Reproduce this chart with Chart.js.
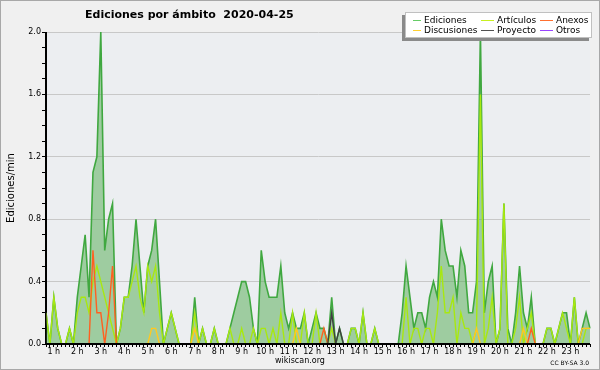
<!DOCTYPE html>
<html>
<head>
<meta charset="utf-8">
<script src="https://cdn.jsdelivr.net/npm/chart.js@4.4.1/dist/chart.umd.min.js"></script>
<style>
  html, body { margin: 0; padding: 0; background: #f0f0f0; }
  #wrap { position: relative; width: 600px; height: 370px; font-family: "DejaVu Sans", sans-serif; color: #000; }
  #frame { position: absolute; left: 0; top: 0; width: 600px; height: 370px; box-sizing: border-box; border: 1px solid #a8a8a8; pointer-events: none; }
  #titulo { position: absolute; left: 85px; top: 8px; font-weight: bold; font-size: 11px; line-height: 13px; white-space: pre; }
  #leyenda { position: absolute; left: 405px; top: 12px; width: 187px; height: 26px; background: #fff; border: 1px solid #c0c0c0; box-sizing: border-box; box-shadow: -3px 3px 0 #8a8a8a; }
  .item { position: absolute; font-size: 9px; line-height: 10px; white-space: pre; }
  .muestra { position: absolute; height: 1px; }
  #pie { position: absolute; left: 200px; width: 200px; top: 356px; text-align: center; font-size: 8px; line-height: 10px; }
  #licencia { position: absolute; right: 11px; top: 359px; font-size: 6px; line-height: 8px; }
</style>
</head>
<body>
<div id="wrap">
  <canvas id="grafico" width="600" height="370"></canvas>
  <div id="titulo">Ediciones por ámbito  2020-04-25</div>
  <div id="leyenda"></div>
  <div id="pie">wikiscan.org</div>
  <div id="licencia">CC BY-SA 3.0</div>
  <div id="frame"></div>
</div>
<script>
// 10-minute bins from 0:40 to 23:50, values in edits per minute
const inicio = 4;   // first bin = 0:40
const fin = 143;    // last bin = 23:50

const ediciones = [
  0.2, 0, 0.3, 0.1, 0, 0, 0.1, 0, 0.3, 0.5,
  0.7, 0.3, 1.1, 1.2, 2.0, 0.6, 0.8, 0.9, 0, 0.1,
  0.3, 0.3, 0.5, 0.8, 0.5, 0.2, 0.5, 0.6, 0.8, 0.4,
  0, 0.1, 0.2, 0.1, 0, 0, 0, 0, 0.3, 0,
  0.1, 0, 0, 0.1, 0, 0, 0, 0.1, 0.2, 0.3,
  0.4, 0.4, 0.3, 0.1, 0, 0.6, 0.4, 0.3, 0.3, 0.3,
  0.5, 0.2, 0.1, 0.2, 0.1, 0.1, 0.2, 0, 0.1, 0.2,
  0.1, 0.1, 0, 0.3, 0, 0.1, 0, 0, 0.1, 0.1,
  0, 0.2, 0, 0, 0.1, 0, 0, 0, 0, 0,
  0, 0.2, 0.5, 0.3, 0.1, 0.2, 0.2, 0.1, 0.3, 0.4,
  0.3, 0.8, 0.6, 0.5, 0.5, 0.3, 0.6, 0.5, 0.2, 0.2,
  0.4, 2.0, 0.2, 0.4, 0.5, 0, 0.1, 0.9, 0.1, 0,
  0.2, 0.5, 0.2, 0.1, 0.3, 0, 0, 0, 0.1, 0.1,
  0, 0.1, 0.2, 0.2, 0, 0.3, 0, 0.1, 0.2, 0.1
];

const articulos = [
  0.2, 0, 0.3, 0.1, 0, 0, 0.1, 0, 0.2, 0.3,
  0.3, 0.2, 0.4, 0.5, 0.4, 0.3, 0.2, 0.1, 0, 0.1,
  0.3, 0.3, 0.4, 0.5, 0.3, 0.2, 0.5, 0.4, 0.5, 0.2,
  0, 0.1, 0.2, 0.1, 0, 0, 0, 0, 0.2, 0,
  0.1, 0, 0, 0.1, 0, 0, 0, 0.1, 0, 0,
  0.1, 0, 0, 0.1, 0, 0.1, 0.1, 0, 0.1, 0,
  0.2, 0, 0, 0.2, 0, 0, 0.2, 0, 0, 0.2,
  0, 0, 0, 0.1, 0, 0, 0, 0, 0.1, 0.1,
  0, 0.2, 0, 0, 0.1, 0, 0, 0, 0, 0,
  0, 0, 0.3, 0, 0.1, 0.1, 0, 0.1, 0.1, 0,
  0.2, 0.5, 0.2, 0.2, 0.3, 0, 0.2, 0.1, 0.1, 0,
  0.1, 1.6, 0, 0.1, 0.3, 0, 0.1, 0.9, 0, 0,
  0.1, 0.3, 0, 0.1, 0.2, 0, 0, 0, 0.1, 0.1,
  0, 0.1, 0.2, 0.1, 0, 0.3, 0, 0, 0.1, 0.1
];

const anexos = [
  0, 0, 0, 0, 0, 0, 0, 0, 0, 0,
  0, 0, 0.6, 0.2, 0.2, 0, 0.2, 0.5, 0, 0,
  0, 0, 0, 0, 0, 0, 0, 0, 0, 0,
  0, 0, 0, 0, 0, 0, 0, 0, 0, 0,
  0, 0, 0, 0, 0, 0, 0, 0, 0, 0,
  0, 0, 0, 0, 0, 0, 0, 0, 0, 0,
  0, 0, 0, 0, 0, 0, 0, 0, 0, 0,
  0, 0.1, 0, 0, 0, 0, 0, 0, 0, 0,
  0, 0, 0, 0, 0, 0, 0, 0, 0, 0,
  0, 0, 0, 0, 0, 0, 0, 0, 0, 0,
  0, 0, 0, 0, 0, 0, 0, 0, 0, 0,
  0, 0, 0, 0, 0, 0, 0, 0, 0, 0,
  0, 0, 0, 0, 0.1, 0, 0, 0, 0, 0,
  0, 0, 0, 0, 0, 0, 0, 0, 0, 0
];

const discusiones = [
  0, 0, 0, 0, 0, 0, 0, 0, 0, 0,
  0, 0, 0, 0, 0, 0, 0, 0, 0, 0,
  0, 0, 0, 0, 0, 0, 0, 0.1, 0.1, 0,
  0, 0, 0, 0, 0, 0, 0, 0, 0.1, 0,
  0, 0, 0, 0, 0, 0, 0, 0, 0, 0,
  0, 0, 0, 0, 0, 0, 0, 0, 0, 0,
  0, 0, 0, 0, 0.1, 0, 0, 0, 0, 0,
  0, 0, 0, 0, 0, 0, 0, 0, 0, 0,
  0, 0, 0, 0, 0, 0, 0, 0, 0, 0,
  0, 0, 0, 0, 0, 0, 0, 0, 0, 0,
  0, 0, 0, 0, 0, 0, 0, 0, 0, 0,
  0.1, 0, 0, 0, 0, 0, 0, 0, 0, 0,
  0, 0, 0.1, 0, 0, 0, 0, 0, 0, 0,
  0, 0, 0, 0, 0, 0, 0, 0.1, 0.1, 0.1
];

const proyecto = [
  0, 0, 0, 0, 0, 0, 0, 0, 0, 0,
  0, 0, 0, 0, 0, 0, 0, 0, 0, 0,
  0, 0, 0, 0, 0, 0, 0, 0, 0, 0,
  0, 0, 0, 0, 0, 0, 0, 0, 0, 0,
  0, 0, 0, 0, 0, 0, 0, 0, 0, 0,
  0, 0, 0, 0, 0, 0, 0, 0, 0, 0,
  0, 0, 0, 0, 0, 0, 0, 0, 0, 0,
  0, 0, 0, 0.2, 0, 0.1, 0, 0, 0, 0,
  0, 0, 0, 0, 0, 0, 0, 0, 0, 0,
  0, 0, 0, 0, 0, 0, 0, 0, 0, 0,
  0, 0, 0, 0, 0, 0, 0, 0, 0, 0,
  0, 0, 0, 0, 0, 0, 0, 0, 0, 0,
  0, 0, 0, 0, 0, 0, 0, 0, 0, 0,
  0, 0, 0, 0, 0, 0, 0, 0, 0, 0
];

const otros = new Array(ediciones.length).fill(0);

const yTicks = [0.0, 0.4, 0.8, 1.2, 1.6, 2.0];

// category labels "h:mm" and hour tick labels
const horas = [];
const etiquetas = [];
for (let k = inicio; k <= fin; k++) {
    const h = Math.floor(k / 6), m = (k % 6) * 10;
    horas.push(h + ':' + String(m).padStart(2, '0'));
    etiquetas.push(m === 0 && h > 0 ? h + ' h' : '');
}

const series = [
    { nombre: 'Ediciones',   datos: ediciones,   color: '#40a840', leyenda: '#66cc66', orden: 6 },
    { nombre: 'Artículos',   datos: articulos,   color: '#a8e810', leyenda: '#c8f020', orden: 5 },
    { nombre: 'Anexos',      datos: anexos,      color: '#ff6020', leyenda: '#ff7030', orden: 3 },
    { nombre: 'Discusiones', datos: discusiones, color: '#ffc820', leyenda: '#ffd030', orden: 4 },
    { nombre: 'Proyecto',    datos: proyecto,    color: '#404040', leyenda: '#505050', orden: 2 },
    { nombre: 'Otros',       datos: otros,       color: '#9944ff', leyenda: '#9944ff', orden: 1 }
];

// html legend, 3 columns x 2 rows
const leyenda = document.getElementById('leyenda');
const colX = [[7, 18], [75, 91], [134, 150]];
series.forEach((s, i) => {
    const col = i % 3, fila = Math.floor(i / 3);
    const m = document.createElement('div');
    m.className = 'muestra';
    m.style.left = colX[col][0] + 'px';
    m.style.width = (col === 0 ? 8 : 13) + 'px';
    m.style.top = (7 + fila * 10) + 'px';
    m.style.background = s.leyenda;
    leyenda.appendChild(m);
    const t = document.createElement('div');
    t.className = 'item';
    t.style.left = colX[col][1] + 'px';
    t.style.top = (2 + fila * 10) + 'px';
    t.textContent = s.nombre;
    leyenda.appendChild(t);
});

const fondo = {
    id: 'fondo',
    beforeDraw(chart) {
        const { ctx, chartArea: a } = chart;
        ctx.save();
        ctx.fillStyle = '#eceef1';
        ctx.fillRect(a.left, a.top, a.right - a.left, a.bottom - a.top);
        ctx.restore();
    }
};

// redraw the x axis over the zero-valued lines
const ejes = {
    id: 'ejes',
    afterDatasetsDraw(chart) {
        const { ctx, chartArea: a } = chart;
        ctx.save();
        ctx.fillStyle = '#000';
        ctx.fillRect(a.left - 1, a.bottom - 1, a.right - a.left + 1, 2);
        ctx.fillRect(a.left - 1, a.top, 1.5, a.bottom - a.top);
        ctx.restore();
    }
};

const ctx = document.getElementById('grafico').getContext('2d');
const grafico = new Chart(ctx, {
    type: 'line',
    data: {
        labels: horas,
        datasets: series.map(s => ({
            label: s.nombre,
            data: s.datos,
            borderColor: s.color,
            borderWidth: s.nombre === 'Ediciones' ? 1.6 : 1.4,
            backgroundColor: 'rgba(80, 170, 80, 0.5)',
            fill: s.nombre === 'Ediciones' ? 'origin' : false,
            tension: 0,
            pointRadius: 0,
            order: s.orden
        }))
    },
    options: {
        responsive: false,
        animation: false,
        layout: { padding: { top: 32, right: 10, left: 0, bottom: 0 } },
        plugins: {
            legend: { display: false },
            tooltip: { enabled: false }
        },
        scales: {
            x: {
                type: 'category',
                offset: false,
                grid: { drawOnChartArea: false, color: '#000', tickLength: 3 },
                border: { color: '#000' },
                ticks: {
                    autoSkip: false,
                    maxRotation: 0,
                    minRotation: 0,
                    padding: 0,
                    color: '#000',
                    font: { family: 'DejaVu Sans', size: 8 },
                    callback: (v, i) => etiquetas[i]
                },
                afterFit: s => { s.height = 26; }
            },
            y: {
                min: 0,
                max: 2,
                grid: {
                    color: c => (c.tick && c.tick.value > 0 && yTicks.some(t => Math.abs(t - c.tick.value) < 1e-6)) ? '#c8c8c8' : 'rgba(0,0,0,0)',
                    tickColor: '#000',
                    tickLength: 4
                },
                border: { color: '#000' },
                ticks: {
                    stepSize: 0.1,
                    autoSkip: false,
                    padding: 1,
                    color: '#000',
                    font: { family: 'DejaVu Sans', size: 8 },
                    callback: v => {
                        const t = yTicks.find(t => Math.abs(t - v) < 1e-6);
                        return t === undefined ? '' : t.toFixed(1);
                    }
                },
                title: {
                    display: true,
                    text: 'Ediciones/min',
                    color: '#000',
                    font: { family: 'DejaVu Sans', size: 10 },
                    padding: { top: 5, bottom: 0 }
                },
                afterFit: s => { s.width = 46; }
            }
        }
    },
    plugins: [fondo, ejes]
});
</script>
</body>
</html>
